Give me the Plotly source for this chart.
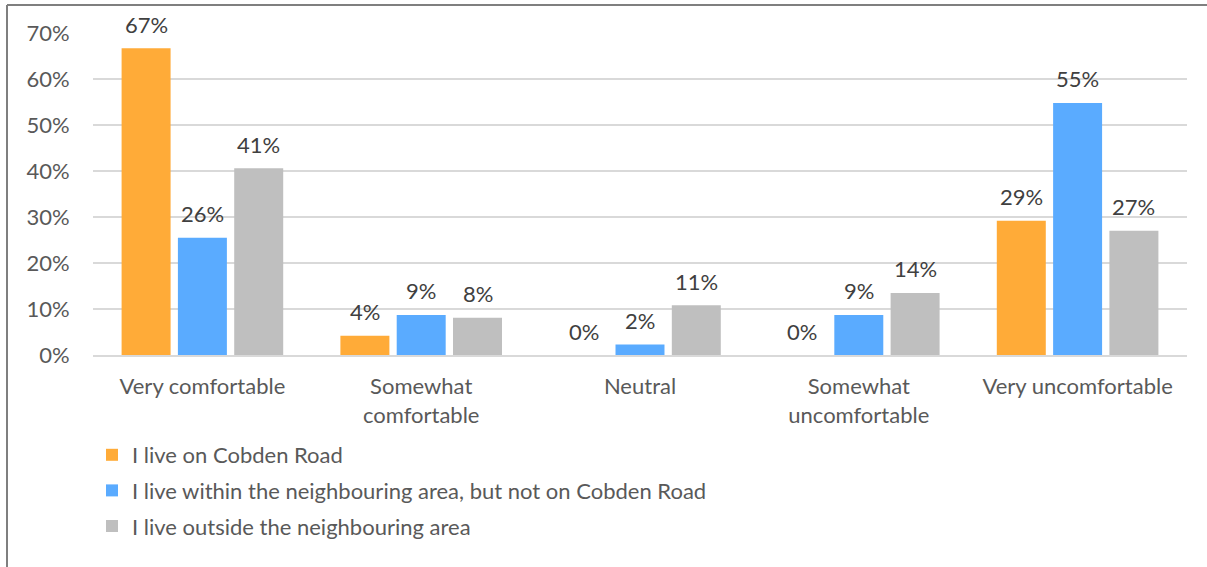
import plotly.graph_objects as go

categories = ["Very comfortable", "Somewhat<br>comfortable", "Neutral", "Somewhat<br>uncomfortable", "Very uncomfortable"]
series_names = [
    "I live on Cobden Road",
    "I live within the neighbouring area, but not on Cobden Road",
    "I live outside the neighbouring area",
]
cobden = [0.667, 0.042, 0.0, 0.0, 0.292]
neighbouring = [0.255, 0.087, 0.023, 0.087, 0.548]
outside = [0.406, 0.081, 0.108, 0.135, 0.270]
colors = ["#FFAB38", "#5AABFF", "#BFBFBF"]
tick_vals = [0, 0.1, 0.2, 0.3, 0.4, 0.5, 0.6, 0.7]

FONT = "Lato"
FS = 22
BARGAP = 0.228
GROUPGAP = 0.13

L, R, T, B = 93, 20, 33, 212
W, H = 1207, 567
pw, ph = W - L - R, H - T - B

def px(x):
    return (x - L) / pw

def py(y):
    return (H - B - y) / ph

slot = (1 - BARGAP) * (pw / len(categories)) / len(series_names)

fig = go.Figure()
annotations = []
for i, (name, vals) in enumerate(zip(series_names, [cobden, neighbouring, outside])):
    fig.add_trace(go.Bar(
        x=categories, y=vals, name=name, marker=dict(color=colors[i], line=dict(width=0)),
        legendgroup=f"g{i}",
    ))
    for c, v in zip(categories, vals):
        annotations.append(dict(
            x=c, y=v, xref="x", yref="y", text=f"{v:.0%}", showarrow=False,
            xshift=(i - 1) * slot, yshift=24, yanchor="middle", xanchor="center",
            font=dict(family=FONT, size=FS, color="#404040"),
        ))

fig.update_layout(
    width=W, height=H, barmode="group", bargap=BARGAP, bargroupgap=GROUPGAP,
    margin=dict(l=L, r=R, t=T, b=B),
    paper_bgcolor="white", plot_bgcolor="white",
    font=dict(family=FONT, size=FS, color="#595959"),
    yaxis=dict(range=[0, 0.7], tickvals=tick_vals, tickformat=".0%", gridcolor="#D9D9D9",
               gridwidth=1.5, zeroline=False, showline=False, ticks="outside", ticklen=18,
               tickcolor="rgba(0,0,0,0)",
               tickfont=dict(family=FONT, size=FS, color="#595959")),
    xaxis=dict(showline=True, linecolor="#D9D9D9", linewidth=1.5, ticks="outside", ticklen=11,
               tickcolor="rgba(0,0,0,0)",
               tickfont=dict(family=FONT, size=FS, color="#595959")),
    showlegend=True,
    legend=dict(orientation="v", x=px(92), y=py(434), xanchor="left", yanchor="top",
                font=dict(family=FONT, size=FS, color="#595959"), tracegroupgap=4,
                itemwidth=30, bgcolor="rgba(0,0,0,0)"),
    annotations=annotations,
    shapes=[
        dict(type="line", xref="paper", yref="paper", x0=px(7), x1=px(1207), y0=py(5), y1=py(5),
             line=dict(color="#7F7F7F", width=2)),
        dict(type="line", xref="paper", yref="paper", x0=px(7), x1=px(7), y0=py(5), y1=py(567),
             line=dict(color="#7F7F7F", width=2)),
    ],
)
fig.write_html("out.html",
               post_script="document.body.style.margin='0';document.body.style.overflow='hidden';",
               config={"displayModeBar": False})
